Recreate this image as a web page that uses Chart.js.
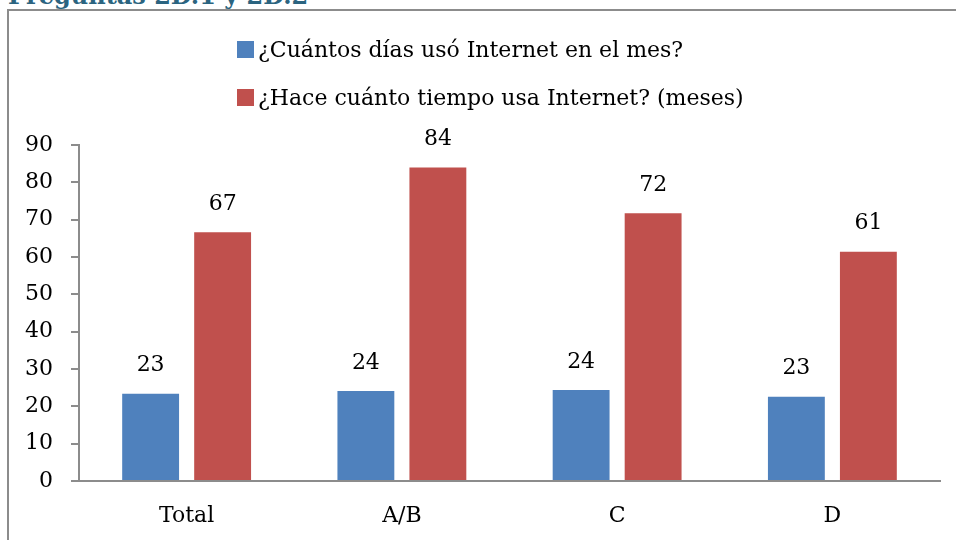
<!DOCTYPE html>
<html>
<head>
<meta charset="utf-8">
<script src="https://cdn.jsdelivr.net/npm/chart.js@4.4.0/dist/chart.umd.min.js"></script>
<style>
  body { margin: 0; background: #fff; width: 956px; height: 540px; overflow: hidden; position: relative; font-family: "DejaVu Serif", serif; }
  .page-title { position: absolute; left: 8px; top: -19px; line-height: 24px; font: bold 24px "DejaVu Serif", serif; color: #2b6480; white-space: nowrap; }
  .frame { position: absolute; left: 7px; top: 9px; width: 1000px; height: 600px; border-left: 2px solid #8c8c8c; border-top: 2px solid #8c8c8c; }
  .chart-box { position: absolute; left: 0; top: 0; width: 956px; height: 540px; }
  .legend { position: absolute; left: 237px; top: 25px; }
  .legend-item { height: 48px; display: flex; align-items: center; font-size: 22px; color: #000; white-space: nowrap; }
  .legend-item .swatch { width: 17px; height: 17px; margin-right: 4px; }
</style>
</head>
<body>
<div class="page-title">Preguntas 2D.1 y 2D.2</div>
<div class="frame"></div>
<div class="chart-box"><canvas id="internet-chart" width="956" height="540"></canvas></div>
<div class="legend" id="internet-legend"></div>
<script>
var categories = ["Total", "A/B", "C", "D"];
var diasUso = [23.4, 24.1, 24.4, 22.6];
var mesesUso = [66.6, 84.0, 71.7, 61.4];
var yTicks = [0, 10, 20, 30, 40, 50, 60, 70, 80, 90];

var colorBlue = '#4f81bd';
var colorRed = '#c0504d';
var axisGray = '#8c8c8c';
var chartFont = '"DejaVu Serif", serif';

// value above every bar, rounded like the original
var barValueLabels = {
  id: 'barValueLabels',
  afterDatasetsDraw: function(chart) {
    var ctx = chart.ctx;
    ctx.save();
    ctx.font = '22px ' + chartFont;
    ctx.fillStyle = '#000';
    ctx.textAlign = 'center';
    ctx.textBaseline = 'middle';
    chart.data.datasets.forEach(function(dataset, i) {
      chart.getDatasetMeta(i).data.forEach(function(bar, j) {
        ctx.fillText(Math.round(dataset.data[j]), bar.x, bar.y - 28);
      });
    });
    ctx.restore();
  }
};

var htmlLegend = function(chart) {
  var legend = document.getElementById('internet-legend');
  legend.innerHTML = '';
  chart.data.datasets.forEach(function(dataset) {
    var item = document.createElement('div');
    item.className = 'legend-item';
    var swatch = document.createElement('span');
    swatch.className = 'swatch';
    swatch.style.backgroundColor = dataset.backgroundColor;
    item.appendChild(swatch);
    item.appendChild(document.createTextNode(dataset.label));
    legend.appendChild(item);
  });
};

var internetChart = new Chart(document.getElementById('internet-chart'), {
  type: 'bar',
  data: {
    labels: categories,
    datasets: [{
      label: '¿Cuántos días usó Internet en el mes?',
      data: diasUso,
      backgroundColor: colorBlue,
      categoryPercentage: 0.669,
      barPercentage: 0.79
    }, {
      label: '¿Hace cuánto tiempo usa Internet? (meses)',
      data: mesesUso,
      backgroundColor: colorRed,
      categoryPercentage: 0.669,
      barPercentage: 0.79
    }]
  },
  options: {
    responsive: false,
    animation: false,
    layout: { padding: { top: 145, right: 16, left: 0, bottom: 0 } },
    plugins: {
      legend: { display: false },
      tooltip: { enabled: false }
    },
    scales: {
      x: {
        grid: { display: false, drawTicks: false },
        border: { display: true, color: axisGray, width: 2 },
        ticks: { color: '#000', font: { family: chartFont, size: 22 }, padding: 22 },
        afterFit: function(scale) { scale.height = 59; }
      },
      y: {
        min: 0,
        max: 90,
        afterBuildTicks: function(scale) {
          scale.ticks = yTicks.map(function(v) { return { value: v }; });
        },
        grid: { display: true, drawOnChartArea: false, drawTicks: true, tickLength: 8, color: axisGray, lineWidth: 2 },
        border: { display: true, color: axisGray, width: 2 },
        ticks: { color: '#000', font: { family: chartFont, size: 22 }, padding: 18 },
        afterFit: function(scale) { scale.width = 79; }
      }
    }
  },
  plugins: [barValueLabels]
});
htmlLegend(internetChart);
</script>
</body>
</html>
